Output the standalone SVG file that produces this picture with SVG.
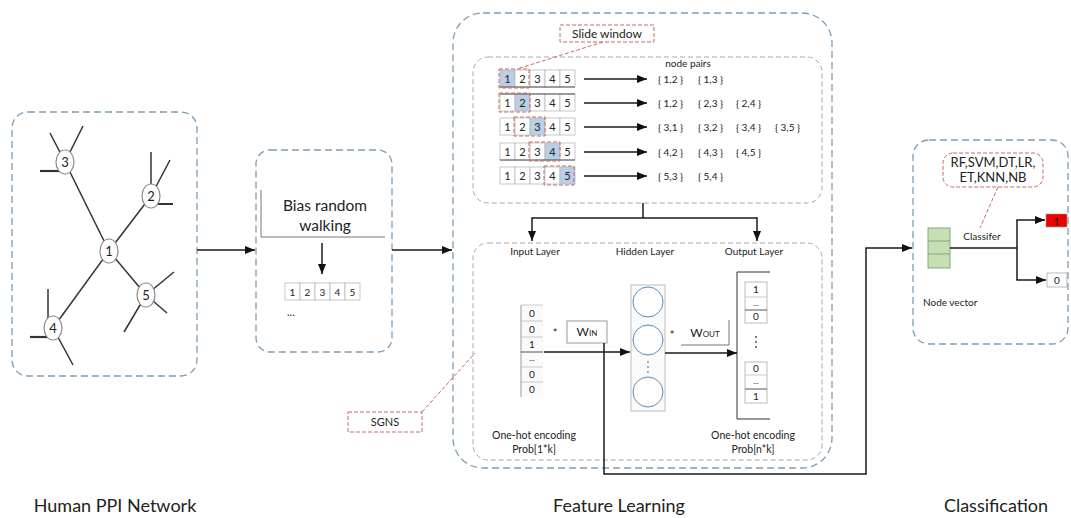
<svg xmlns="http://www.w3.org/2000/svg" width="1071" height="518" viewBox="0 0 1071 518">
<style>
.outer{fill:none;stroke:#7c9db5;stroke-width:1.3;stroke-dasharray:7 4}
.inner{fill:none;stroke:#aaaaaa;stroke-width:1;stroke-dasharray:5 3}
.red{fill:none;stroke:#c96b6b;stroke-width:1;stroke-dasharray:4 2}
.ln{stroke:#1a1a1a;stroke-width:1.5;fill:none}
.sp{stroke:#333;stroke-width:1.5;fill:none}
.t{font-family:Lato,"Open Sans",sans-serif;fill:#222}
.cell{fill:#fff;stroke:#b8b8b8;stroke-width:0.8}
.hl{fill:#b9cfe6;stroke:#b8b8b8;stroke-width:0.8}
.nd{fill:#fff;stroke:#8a8a8a;stroke-width:1.2}
.c10{font-size:10px}
.c11{font-size:11px}
.mid{text-anchor:middle}
</style>
<defs>
<marker id="ah" viewBox="0 0 10 8" refX="10" refY="4" markerWidth="10" markerHeight="8" markerUnits="userSpaceOnUse" orient="auto"><path d="M0,0 L10,4 L0,8 z" fill="#111"/></marker>
</defs>

<!-- Human PPI Network -->
<g id="ppi">
<rect class="outer" x="12" y="112" width="185" height="264" rx="16"/>
<g class="sp">
<line x1="109" y1="251" x2="65" y2="162"/>
<line x1="109" y1="251" x2="151" y2="196"/>
<line x1="109" y1="251" x2="53" y2="328"/>
<line x1="109" y1="251" x2="146" y2="295"/>
<line x1="65" y1="162" x2="50" y2="133"/>
<line x1="65" y1="162" x2="83" y2="126"/>
<line x1="40" y1="171" x2="60" y2="171" stroke-width="2.2"/>
<line x1="151" y1="152" x2="151" y2="196"/>
<line x1="151" y1="196" x2="170" y2="160"/>
<line x1="151" y1="204" x2="173" y2="204" stroke-width="2"/>
<line x1="48" y1="289" x2="48" y2="328"/>
<line x1="30" y1="337" x2="50" y2="337" stroke-width="2.2"/>
<line x1="53" y1="328" x2="73" y2="365"/>
<line x1="146" y1="295" x2="174" y2="272"/>
<line x1="146" y1="295" x2="167" y2="313"/>
<line x1="146" y1="295" x2="124" y2="332"/>
</g>
<g id="n3"><ellipse class="nd" cx="65" cy="162" rx="9" ry="12"/><text class="t mid" x="65" y="167" font-size="13">3</text></g>
<g id="n2"><ellipse class="nd" cx="151" cy="196" rx="9" ry="12"/><text class="t mid" x="151" y="201" font-size="13">2</text></g>
<g id="n1"><ellipse class="nd" cx="109" cy="251" rx="9" ry="12"/><text class="t mid" x="109" y="256" font-size="13">1</text></g>
<g id="n5"><ellipse class="nd" cx="146" cy="295" rx="9" ry="12"/><text class="t mid" x="146" y="300" font-size="13">5</text></g>
<g id="n4"><ellipse class="nd" cx="53" cy="328" rx="9" ry="12"/><text class="t mid" x="53" y="333" font-size="13">4</text></g>
</g>

<!-- Bias random walking -->
<g id="walk">
<rect class="outer" x="256" y="150" width="136" height="202" rx="14"/>
<polyline points="261,190 261,237 385,237" fill="none" stroke="#777" stroke-width="1"/>
<text class="t mid" x="325" y="211" font-size="15.5">Bias random</text>
<text class="t mid" x="325" y="231" font-size="15.5">walking</text>
<g>
<rect class="cell" x="285" y="283" width="15" height="17"/>
<rect class="cell" x="300" y="283" width="15" height="17"/>
<rect class="cell" x="315" y="283" width="15" height="17"/>
<rect class="cell" x="330" y="283" width="15" height="17"/>
<rect class="cell" x="345" y="283" width="15" height="17"/>
<text class="t c10 mid" x="292.5" y="295.5">1</text>
<text class="t c10 mid" x="307.5" y="295.5">2</text>
<text class="t c10 mid" x="322.5" y="295.5">3</text>
<text class="t c10 mid" x="337.5" y="295.5">4</text>
<text class="t c10 mid" x="352.5" y="295.5">5</text>
</g>
<text class="t c11" x="287" y="316">...</text>
</g>

<!-- Feature Learning -->
<g id="feature">
<rect class="outer" x="453" y="13" width="379" height="455" rx="30"/>
</g>

<g id="slidewindow">
<rect class="red" x="560" y="25" width="94" height="17"/>
<text class="t mid" x="607" y="38" font-size="12">Slide window</text>
</g>

<g id="pairs-box">
<rect class="inner" x="473" y="57" width="349" height="146" rx="15"/>
<text class="t c10 mid" x="688" y="67">node pairs</text>
<!-- row1 -->
<g>
<rect class="hl" x="500" y="70" width="15" height="17"/><rect class="cell" x="515" y="70" width="15" height="17"/><rect class="cell" x="530" y="70" width="15" height="17"/><rect class="cell" x="545" y="70" width="15" height="17"/><rect class="cell" x="560" y="70" width="15" height="17"/>
<line x1="500" y1="87" x2="575" y2="87" stroke="#555" stroke-width="1"/>
<rect class="red" x="499" y="69" width="30" height="19"/>
<text class="t c11 mid" x="507.5" y="82.5">1</text><text class="t c11 mid" x="522.5" y="82.5">2</text><text class="t c11 mid" x="537.5" y="82.5">3</text><text class="t c11 mid" x="552.5" y="82.5">4</text><text class="t c11 mid" x="567.5" y="82.5">5</text>
</g>
<!-- row2 -->
<g>
<rect class="cell" x="500" y="94" width="15" height="17"/><rect class="hl" x="515" y="94" width="15" height="17"/><rect class="cell" x="530" y="94" width="15" height="17"/><rect class="cell" x="545" y="94" width="15" height="17"/><rect class="cell" x="560" y="94" width="15" height="17"/>
<line x1="500" y1="94" x2="575" y2="94" stroke="#555" stroke-width="1"/>
<rect class="red" x="499" y="93" width="31" height="19"/>
<text class="t c11 mid" x="507.5" y="106.5">1</text><text class="t c11 mid" x="522.5" y="106.5">2</text><text class="t c11 mid" x="537.5" y="106.5">3</text><text class="t c11 mid" x="552.5" y="106.5">4</text><text class="t c11 mid" x="567.5" y="106.5">5</text>
</g>
<!-- row3 -->
<g>
<rect class="cell" x="500" y="118" width="15" height="17"/><rect class="cell" x="515" y="118" width="15" height="17"/><rect class="hl" x="530" y="118" width="15" height="17"/><rect class="cell" x="545" y="118" width="15" height="17"/><rect class="cell" x="560" y="118" width="15" height="17"/>
<rect class="red" x="514" y="117" width="31" height="19"/>
<text class="t c11 mid" x="507.5" y="130.5">1</text><text class="t c11 mid" x="522.5" y="130.5">2</text><text class="t c11 mid" x="537.5" y="130.5">3</text><text class="t c11 mid" x="552.5" y="130.5">4</text><text class="t c11 mid" x="567.5" y="130.5">5</text>
</g>
<!-- row4 -->
<g>
<rect class="cell" x="500" y="143" width="15" height="17"/><rect class="cell" x="515" y="143" width="15" height="17"/><rect class="cell" x="530" y="143" width="15" height="17"/><rect class="hl" x="545" y="143" width="15" height="17"/><rect class="cell" x="560" y="143" width="15" height="17"/>
<line x1="500" y1="160" x2="575" y2="160" stroke="#555" stroke-width="1"/>
<rect class="red" x="529" y="142" width="31" height="19"/>
<text class="t c11 mid" x="507.5" y="155.5">1</text><text class="t c11 mid" x="522.5" y="155.5">2</text><text class="t c11 mid" x="537.5" y="155.5">3</text><text class="t c11 mid" x="552.5" y="155.5">4</text><text class="t c11 mid" x="567.5" y="155.5">5</text>
</g>
<!-- row5 -->
<g>
<rect class="cell" x="500" y="167" width="15" height="17"/><rect class="cell" x="515" y="167" width="15" height="17"/><rect class="cell" x="530" y="167" width="15" height="17"/><rect class="cell" x="545" y="167" width="15" height="17"/><rect class="hl" x="560" y="167" width="15" height="17"/>
<rect class="red" x="544" y="166" width="30" height="19"/>
<text class="t c11 mid" x="507.5" y="179.5">1</text><text class="t c11 mid" x="522.5" y="179.5">2</text><text class="t c11 mid" x="537.5" y="179.5">3</text><text class="t c11 mid" x="552.5" y="179.5">4</text><text class="t c11 mid" x="567.5" y="179.5">5</text>
</g>
<g class="t c10" fill="#333">
<text x="658" y="83">{ 1,2 }</text><text x="698" y="83">{ 1,3 }</text>
<text x="658" y="107">{ 1,2 }</text><text x="698" y="107">{ 2,3 }</text><text x="736" y="107">{ 2,4 }</text>
<text x="658" y="131">{ 3,1 }</text><text x="698" y="131">{ 3,2 }</text><text x="736" y="131">{ 3,4 }</text><text x="775" y="131">{ 3,5 }</text>
<text x="658" y="156">{ 4,2 }</text><text x="698" y="156">{ 4,3 }</text><text x="736" y="156">{ 4,5 }</text>
<text x="658" y="180">{ 5,3 }</text><text x="698" y="180">{ 5,4 }</text>
</g>
</g>

<g id="sgns-box">
<rect class="inner" x="473" y="243" width="349" height="217" rx="15"/>
<text class="t c10 mid" x="535" y="255">Input Layer</text>
<text class="t c10 mid" x="645" y="255">Hidden Layer</text>
<text class="t c10 mid" x="754" y="255">Output Layer</text>
<!-- input vector -->
<g>
<rect x="521" y="305" width="22" height="92" fill="#fafafa"/>
<line x1="521" y1="305" x2="521" y2="397" stroke="#999" stroke-width="1"/>
<g stroke="#bbb" stroke-width="0.8">
<line x1="521" y1="305" x2="543" y2="305"/><line x1="521" y1="321" x2="543" y2="321"/><line x1="521" y1="337" x2="543" y2="337"/><line x1="521" y1="367" x2="543" y2="367"/><line x1="521" y1="382" x2="543" y2="382"/>
</g>
<line x1="521" y1="352" x2="543" y2="352" stroke="#555" stroke-width="1"/>
<text class="t c10 mid" x="532" y="317">0</text>
<text class="t c10 mid" x="532" y="333">0</text>
<text class="t c10 mid" x="532" y="348">1</text>
<text class="t mid" x="532" y="361" font-size="8">...</text>
<text class="t c10 mid" x="532" y="378">0</text>
<text class="t c10 mid" x="532" y="393">0</text>
</g>
<text class="t mid" x="555" y="337" font-size="11">*</text>
<g id="win">
<rect x="567" y="321" width="40" height="22" fill="#fff" stroke="#999" stroke-width="1"/>
<text class="t mid" x="587" y="336" font-size="12">W<tspan font-size="8">IN</tspan></text>
</g>
<!-- hidden -->
<g>
<rect x="631" y="285" width="34" height="126" fill="#fbfbfb" stroke="#bbb" stroke-width="1"/>
<circle cx="648" cy="302" r="15" fill="#fff" stroke="#5b8db8" stroke-width="1"/>
<circle cx="648" cy="340" r="15" fill="#fff" stroke="#5b8db8" stroke-width="1"/>
<circle cx="648" cy="392" r="15" fill="#fff" stroke="#5b8db8" stroke-width="1"/>
<g fill="#5b8db8"><circle cx="648" cy="362" r="0.9"/><circle cx="648" cy="367" r="0.9"/><circle cx="648" cy="372" r="0.9"/></g>
</g>
<text class="t mid" x="672" y="339" font-size="11">*</text>
<g id="wout">
<polyline points="681,345 729,345 729,320" fill="none" stroke="#777" stroke-width="1"/>
<text class="t mid" x="705" y="337" font-size="12">W<tspan font-size="8">OUT</tspan></text>
</g>
<!-- output -->
<g>
<polyline points="770,272 737,272 737,419 770,419" fill="none" stroke="#333" stroke-width="1"/>
<g fill="#fff" stroke="#aaa" stroke-width="0.8">
<rect x="745" y="282" width="22" height="41"/>
<rect x="745" y="362" width="22" height="41"/>
</g>
<g stroke="#bbb" stroke-width="0.8">
<line x1="745" y1="297" x2="767" y2="297"/><line x1="745" y1="375" x2="767" y2="375"/>
</g>
<g stroke="#555" stroke-width="1">
<line x1="745" y1="310" x2="767" y2="310"/><line x1="745" y1="389" x2="767" y2="389"/>
</g>
<text class="t c10 mid" x="756" y="293">1</text>
<text class="t mid" x="756" y="306" font-size="8">...</text>
<text class="t c10 mid" x="756" y="320">0</text>
<g fill="#444"><circle cx="756" cy="337" r="0.9"/><circle cx="756" cy="342" r="0.9"/><circle cx="756" cy="347" r="0.9"/></g>
<text class="t c10 mid" x="756" y="372">0</text>
<text class="t mid" x="756" y="384" font-size="8">...</text>
<text class="t c10 mid" x="756" y="400">1</text>
</g>
<text class="t mid" x="534" y="439" font-size="10.5">One-hot encoding</text>
<text class="t mid" x="534" y="453" font-size="10.5">Prob[1*k]</text>
<text class="t mid" x="753" y="439" font-size="10.5">One-hot encoding</text>
<text class="t mid" x="753" y="453" font-size="10.5">Prob[n*k]</text>
</g>

<g id="sgns">
<rect class="red" x="348" y="412" width="74" height="20"/>
<text class="t mid" x="385" y="426" font-size="11">SGNS</text>
</g>

<!-- Classification -->
<g id="classification">
<rect class="outer" x="913" y="140" width="155" height="204" rx="16"/>
</g>
<g id="classifiers">
<rect class="red" x="943" y="153" width="100" height="34" rx="10"/>
<text class="t mid" x="993" y="167" font-size="13">RF,SVM,DT,LR,</text>
<text class="t mid" x="993" y="182" font-size="13">ET,KNN,NB</text>
</g>
<g id="nodevector">
<rect x="928" y="228" width="22" height="40" fill="#c6e0b4" stroke="#8aa57a" stroke-width="1"/>
<line x1="928" y1="241" x2="950" y2="241" stroke="#8aa57a" stroke-width="1"/>
<line x1="928" y1="254" x2="950" y2="254" stroke="#8aa57a" stroke-width="1"/>
<text class="t c10" x="923" y="306">Node vector</text>
</g>
<text class="t c10 mid" x="982" y="240">Classifer</text>
<g id="out1">
<rect x="1046" y="214" width="21" height="13" fill="#ee0000" stroke="#999" stroke-width="0.6"/>
<text class="t c10 mid" x="1056.5" y="224.5" fill="#fff">1</text>
</g>
<g id="out0">
<rect x="1047" y="273" width="20" height="14" fill="#fff" stroke="#aaa" stroke-width="0.8"/>
<text class="t c10 mid" x="1057" y="284">0</text>
</g>

<!-- connectors -->
<g id="connectors">
<line class="ln" x1="197" y1="250" x2="255" y2="250" marker-end="url(#ah)"/>
<line class="ln" x1="392" y1="250" x2="452" y2="250" marker-end="url(#ah)"/>
<line class="ln" x1="322" y1="243" x2="322" y2="274" marker-end="url(#ah)"/>
<line class="ln" x1="584" y1="79" x2="647" y2="79" marker-end="url(#ah)"/>
<line class="ln" x1="584" y1="103" x2="647" y2="103" marker-end="url(#ah)"/>
<line class="ln" x1="584" y1="127" x2="647" y2="127" marker-end="url(#ah)"/>
<line class="ln" x1="584" y1="152" x2="647" y2="152" marker-end="url(#ah)"/>
<line class="ln" x1="584" y1="176" x2="647" y2="176" marker-end="url(#ah)"/>
<line class="ln" x1="643" y1="203" x2="643" y2="218"/>
<polyline class="ln" points="532,218 757,218"/>
<line class="ln" x1="532" y1="217.3" x2="532" y2="241" marker-end="url(#ah)"/>
<line class="ln" x1="757" y1="217.3" x2="757" y2="241" marker-end="url(#ah)"/>
<line class="ln" x1="544" y1="352" x2="630" y2="352" marker-end="url(#ah)"/>
<line class="ln" x1="665" y1="353" x2="737" y2="353" marker-end="url(#ah)"/>
<polyline class="ln" points="604,343 604,474 866,474 866,248 912,248" marker-end="url(#ah)"/>
<polyline class="ln" points="950,248 1017,248"/>
<polyline class="ln" points="1017,220 1017,280"/>
<line class="ln" x1="1016.3" y1="220" x2="1045" y2="220" marker-end="url(#ah)"/>
<line class="ln" x1="1016.3" y1="280" x2="1046" y2="280" marker-end="url(#ah)"/>
<line x1="603" y1="42" x2="517" y2="69" stroke="#c96b6b" stroke-width="1" stroke-dasharray="4 2"/>
<line x1="422" y1="412" x2="475" y2="353" stroke="#c96b6b" stroke-width="1" stroke-dasharray="4 2"/>
<line x1="998" y1="187" x2="980" y2="228" stroke="#c96b6b" stroke-width="1" stroke-dasharray="4 2"/>
</g>

<g id="labels">
<text class="t mid" x="115" y="512" font-size="18">Human PPI Network</text>
<text class="t mid" x="619" y="512" font-size="18">Feature Learning</text>
<text class="t mid" x="996" y="512" font-size="18">Classification</text>
</g>
</svg>
